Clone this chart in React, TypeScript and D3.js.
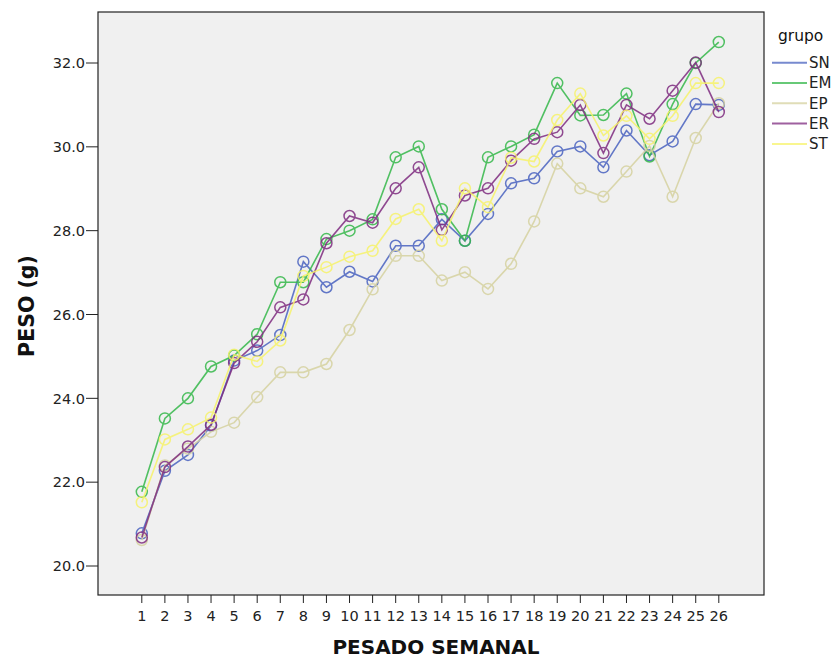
import React from "react";
import * as d3 from "d3";

const weeks = d3.range(1, 27);
const groups = ["SN", "EM", "EP", "ER", "ST"];
const colors = ["#4a63c0", "#35b84a", "#d6d2a0", "#7f2c80", "#f7f36a"];

const SN = [20.78, 22.27, 22.65, 23.35, 24.9, 25.14, 25.51, 27.26, 26.65, 27.02, 26.79, 27.64, 27.64, 28.27, 27.76, 28.4, 29.13, 29.25, 29.89, 30.01, 29.51, 30.39, 29.8, 30.13, 31.02, 31.0];
const EM = [21.77, 23.52, 24.0, 24.76, 25.02, 25.53, 26.77, 26.77, 27.8, 28.0, 28.27, 29.75, 30.01, 28.51, 27.76, 29.75, 30.01, 30.29, 31.52, 30.75, 30.76, 31.27, 29.77, 31.02, 32.0, 32.5];
const EP = [20.62, 22.4, 22.8, 23.2, 23.42, 24.03, 24.62, 24.62, 24.82, 25.63, 26.6, 27.4, 27.4, 26.81, 27.01, 26.61, 27.21, 28.22, 29.6, 29.01, 28.81, 29.41, 30.02, 28.81, 30.21, 31.04];
const ER = [20.68, 22.36, 22.85, 23.37, 24.84, 25.35, 26.17, 26.36, 27.7, 28.35, 28.19, 29.01, 29.51, 28.02, 28.84, 29.01, 29.67, 30.19, 30.35, 31.0, 29.85, 31.0, 30.67, 31.34, 32.01, 30.83];
const ST = [21.52, 23.02, 23.26, 23.54, 25.04, 24.88, 25.38, 26.92, 27.13, 27.38, 27.52, 28.28, 28.51, 27.76, 29.01, 28.56, 29.74, 29.65, 30.64, 31.27, 30.27, 30.74, 30.19, 30.74, 31.52, 31.52];
const seriesValues = [SN, EM, EP, ER, ST];
const yTicks = [20, 22, 24, 26, 28, 30, 32];

const W = 833, H = 660;
const plot = { left: 98, right: 764, top: 12, bottom: 595 };

export default function App() {
  const x = d3.scaleLinear().domain([1, 26]).range([141.8, 718.8]);
  const y = d3.scaleLinear().domain([20, 32]).range([566, 63]);
  const line = d3.line<number>().x((_, i) => x(weeks[i])).y((v) => y(v));
  const font = "'DejaVu Sans', sans-serif";

  return (
    <svg width={W} height={H} style={{ position: "absolute", left: 0, top: 0, background: "#fff" }} fontFamily={font}>
      <rect x={plot.left} y={plot.top} width={plot.right - plot.left} height={plot.bottom - plot.top} fill="#f0f0f0" stroke="#222" strokeWidth={1.2} />
      {yTicks.map((t) => (
        <g key={t}>
          <line x1={plot.left - 12} x2={plot.left} y1={y(t)} y2={y(t)} stroke="#222" strokeWidth={1} />
          <text x={plot.left - 13} y={y(t)} dy="0.36em" textAnchor="end" fontSize={14.5} fill="#222">{t.toFixed(1)}</text>
        </g>
      ))}
      {weeks.map((w) => (
        <g key={w}>
          <line x1={x(w)} x2={x(w)} y1={plot.bottom} y2={plot.bottom + 8} stroke="#222" strokeWidth={1} />
          <text x={x(w)} y={621} textAnchor="middle" fontSize={14.5} fill="#222">{w}</text>
        </g>
      ))}
      <text x={436} y={654} textAnchor="middle" fontSize={20} fontWeight="bold" fill="#111">PESADO SEMANAL</text>
      <text transform={`translate(34,306) rotate(-90)`} textAnchor="middle" fontSize={20.5} fontWeight="bold" fill="#111">PESO (g)</text>
      {seriesValues.map((vals, gi) => (
        <g key={groups[gi]} opacity={0.85}>
          <path d={line(vals) || ""} fill="none" stroke={colors[gi]} strokeWidth={1.6} />
          {vals.map((v, i) => (
            <circle key={i} cx={x(weeks[i])} cy={y(v)} r={5.5} fill="none" stroke={colors[gi]} strokeWidth={1.5} />
          ))}
        </g>
      ))}
      <text x={778} y={41} fontSize={15.5} fill="#111">grupo</text>
      {groups.map((g, i) => (
        <g key={g}>
          <line x1={772} x2={807} y1={62.7 + i * 20.3} y2={62.7 + i * 20.3} stroke={colors[i]} strokeWidth={2} opacity={0.75} />
          <text x={809} y={62.7 + i * 20.3} dy="0.36em" fontSize={15} fill="#222">{g}</text>
        </g>
      ))}
    </svg>
  );
}
